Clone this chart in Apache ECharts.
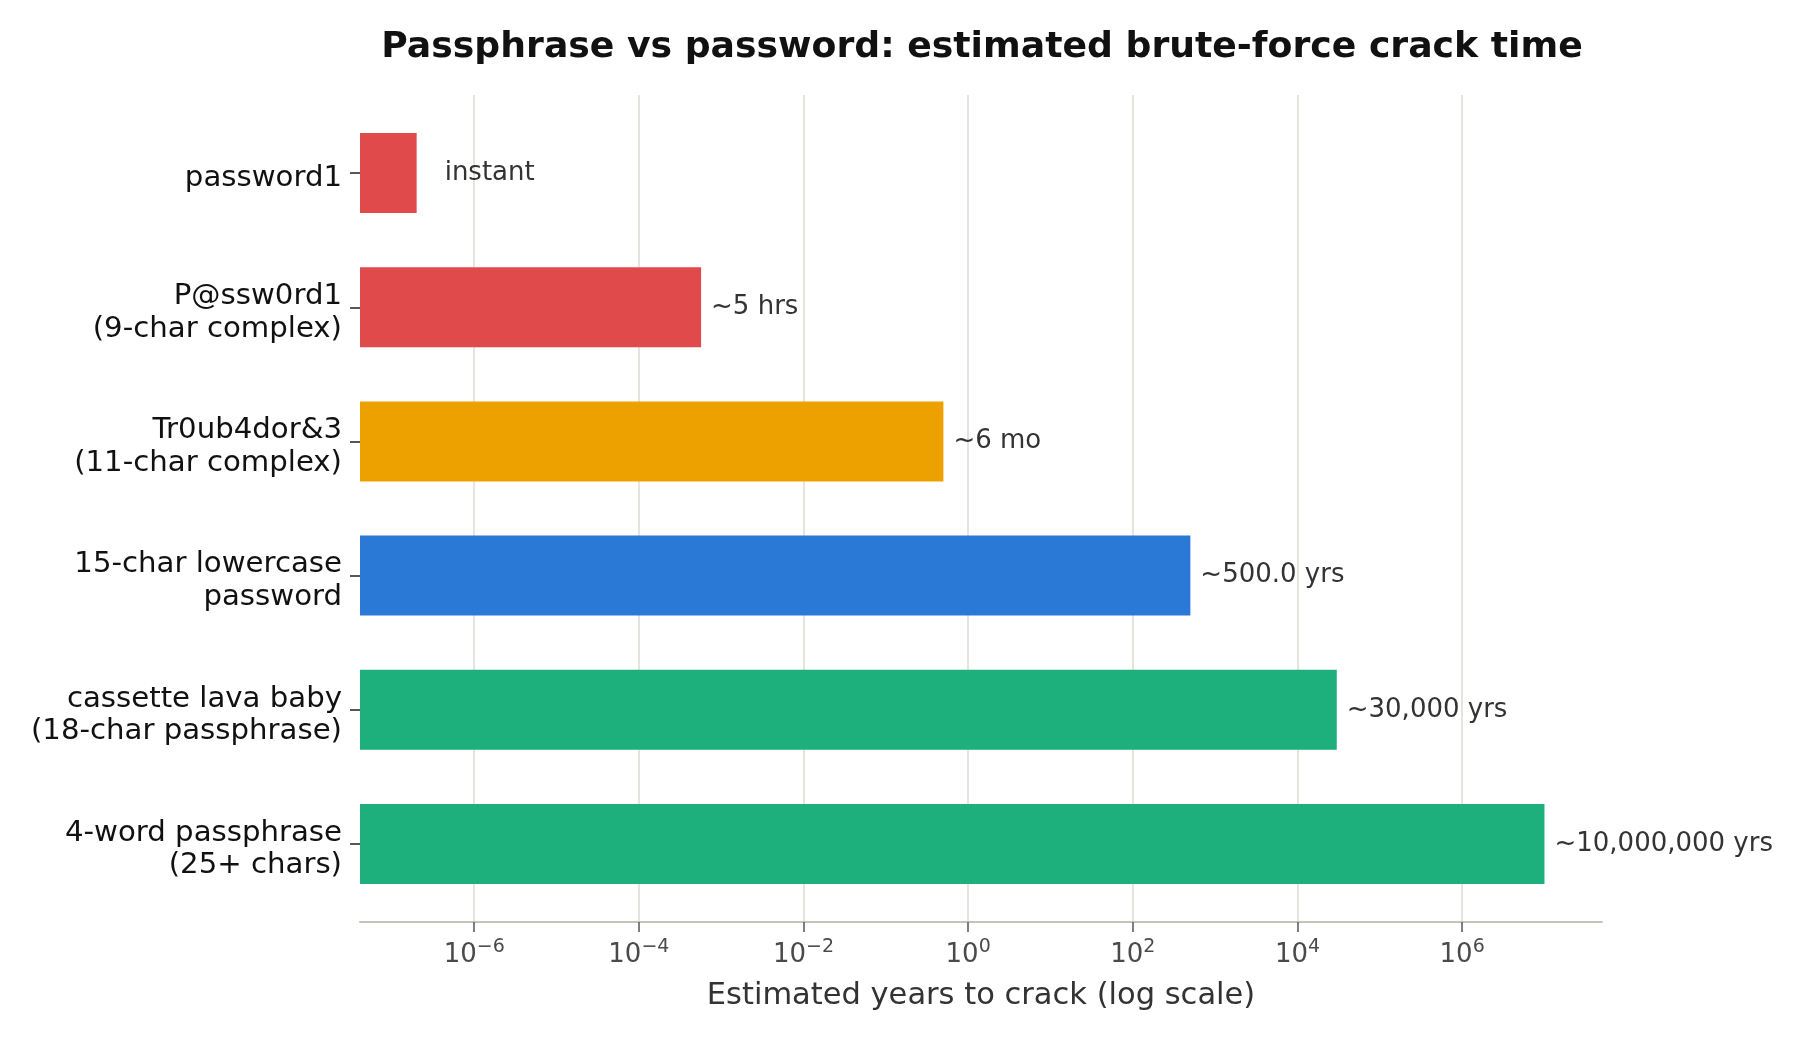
<!DOCTYPE html>
<html>
<head>
<meta charset="utf-8">
<title>Passphrase vs password</title>
<script src="https://cdn.jsdelivr.net/npm/echarts@6/dist/echarts.min.js"></script>
<style>
  html, body { margin: 0; padding: 0; background: #ffffff; }
  #chart { width: 1800px; height: 1040px; }
</style>
</head>
<body>
<div id="chart"></div>
<script>
// categories, top to bottom
const categories = [
  "password1",
  "P@ssw0rd1\n(9-char complex)",
  "Tr0ub4dor&3\n(11-char complex)",
  "15-char lowercase\npassword",
  "cassette lava baby\n(18-char passphrase)",
  "4-word passphrase\n(25+ chars)"
];

// estimated years to crack
const crackYears = [2e-7, 5.7e-4, 0.5, 500, 30000, 1e7];

// text shown after each bar
const barLabels = ["instant", "~5 hrs", "~6 mo", "~500.0 yrs", "~30,000 yrs", "~10,000,000 yrs"];

const barColors = ["#e04a4a", "#e04a4a", "#eca100", "#2a79d6", "#1db07c", "#1db07c"];

// log axis ticks
const tickValues = [1e-6, 1e-4, 1e-2, 1, 1e2, 1e4, 1e6];

const FONT = "DejaVu Sans";
const X_MIN = 4.1e-8;
const X_MAX = 5e7;

const chart = echarts.init(document.getElementById("chart"), null, { renderer: "canvas" });

// 10^n label with superscript exponent
const expLabel = value => {
  const e = Math.round(Math.log10(value));
  const s = (e < 0 ? "\u2212" : "") + Math.abs(e);
  return "{b|10}{s|" + s + "}";
};

chart.setOption({
  backgroundColor: "#ffffff",
  animation: false,
  title: {
    text: "Passphrase vs password: estimated brute-force crack time",
    left: 977,
    textAlign: "center",
    top: 25,
    textStyle: {
      fontFamily: FONT,
      fontSize: 36.2,
      fontWeight: "bold",
      color: "#111111"
    }
  },
  grid: [
    // bars
    { left: 360, right: 198, top: 106, bottom: 129, containLabel: false },
    // full-height grid lines
    { left: 360, right: 198, top: 95, bottom: 118, containLabel: false }
  ],
  xAxis: [
    {
      type: "log",
      gridIndex: 0,
      logBase: 10,
      min: X_MIN,
      max: X_MAX,
      startValue: X_MIN,
      offset: 11,
      name: "Estimated years to crack (log scale)",
      nameLocation: "middle",
      nameGap: 59,
      nameTextStyle: {
        fontFamily: FONT,
        fontSize: 30.5,
        color: "#333333"
      },
      axisLine: {
        show: true,
        lineStyle: { color: "#c4c4b8", width: 2 }
      },
      axisTick: {
        show: true,
        length: 10,
        customValues: tickValues,
        lineStyle: { color: "#555555", width: 1.5 }
      },
      axisLabel: {
        margin: 16,
        customValues: tickValues,
        formatter: expLabel,
        rich: {
          b: { fontFamily: FONT, fontSize: 26, color: "#4a4a4a", lineHeight: 34 },
          s: { fontFamily: FONT, fontSize: 19, color: "#4a4a4a", lineHeight: 20, verticalAlign: "top" }
        }
      },
      splitLine: { show: false },
      minorTick: { show: false },
      minorSplitLine: { show: false }
    },
    {
      type: "log",
      gridIndex: 1,
      logBase: 10,
      min: X_MIN,
      max: X_MAX,
      axisLine: { show: false },
      axisTick: { show: false, customValues: tickValues },
      axisLabel: { show: false, customValues: tickValues },
      splitLine: {
        show: true,
        lineStyle: { color: "#dcdcd4", width: 1.5 }
      }
    }
  ],
  yAxis: [
    {
      type: "category",
      gridIndex: 0,
      inverse: true,
      data: categories,
      axisLine: { show: false },
      axisTick: {
        show: true,
        alignWithLabel: true,
        length: 10,
        lineStyle: { color: "#222222", width: 1.5 }
      },
      axisLabel: {
        margin: 18,
        // small empty first line pushes the label a little lower
        formatter: v => "{g| }\n" + v,
        fontFamily: FONT,
        fontSize: 29.2,
        lineHeight: 32.5,
        color: "#111111",
        align: "right",
        rich: {
          g: { fontSize: 2, lineHeight: 11 }
        }
      },
      splitLine: { show: false }
    },
    {
      type: "value",
      gridIndex: 1,
      min: 0,
      max: 1,
      show: false,
      splitLine: { show: false }
    }
  ],
  series: [
    {
      type: "bar",
      xAxisIndex: 0,
      yAxisIndex: 0,
      z: 3,
      barWidth: 80,
      data: crackYears.map((v, i) => ({
        value: v,
        itemStyle: { color: barColors[i] },
        label: {
          formatter: barLabels[i],
          distance: i === 0 ? 28 : 10
        }
      })),
      label: {
        show: true,
        position: "right",
        fontFamily: FONT,
        fontSize: 26,
        color: "#333333"
      }
    }
  ]
});

window.addEventListener("resize", () => chart.resize());
</script>
</body>
</html>
